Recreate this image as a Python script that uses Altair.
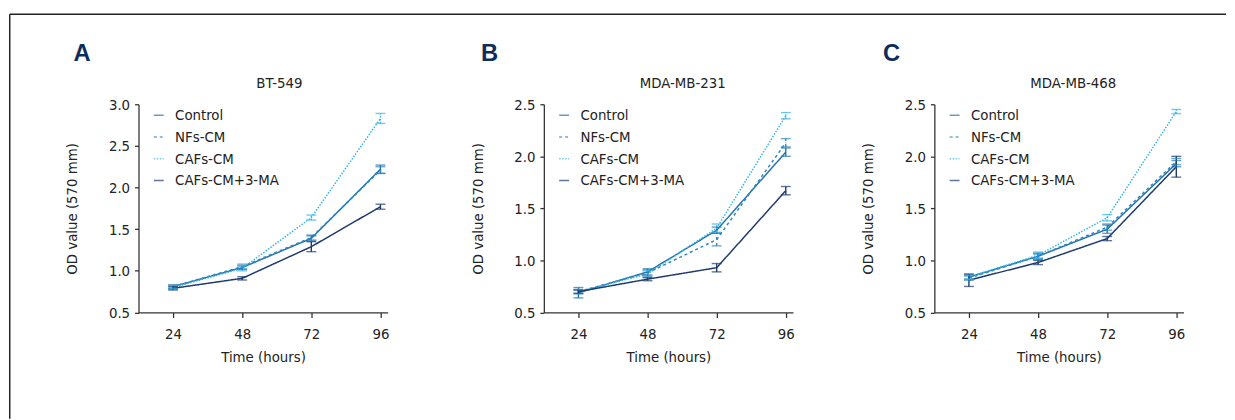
import altair as alt
import pandas as pd

# ---------------- data ----------------
TIMES = [24, 48, 72, 96]
SERIES = ["Control", "NFs-CM", "CAFs-CM", "CAFs-CM+3-MA"]
COLORS = ["#2473ad", "#2f86bb", "#35b4e6", "#1d3b6c"]
DASHES = [[1, 0], [3, 3], [1.5, 1.5], [1, 0]]

LETTERS = ["A", "B", "C"]
CELL_LINES = ["BT-549", "MDA-MB-231", "MDA-MB-468"]
Y_MAX = [3.0, 2.5, 2.5]

# means per series (rows: Control, NFs-CM, CAFs-CM, CAFs-CM+3-MA; cols: 24,48,72,96 h)
BT549_MEAN = [
    [0.81, 1.04, 1.39, 2.22],
    [0.81, 1.05, 1.40, 2.21],
    [0.80, 1.03, 1.64, 2.83],
    [0.79, 0.91, 1.29, 1.77],
]
BT549_SD = [
    [0.02, 0.02, 0.03, 0.05],
    [0.02, 0.03, 0.03, 0.04],
    [0.02, 0.03, 0.03, 0.06],
    [0.02, 0.02, 0.06, 0.03],
]
MDA231_MEAN = [
    [0.69, 0.89, 1.29, 2.04],
    [0.70, 0.88, 1.20, 2.13],
    [0.70, 0.87, 1.31, 2.39],
    [0.70, 0.82, 0.93, 1.67],
]
MDA231_SD = [
    [0.05, 0.03, 0.03, 0.04],
    [0.02, 0.03, 0.06, 0.04],
    [0.02, 0.03, 0.04, 0.03],
    [0.015, 0.015, 0.04, 0.04],
]
MDA468_MEAN = [
    [0.84, 1.04, 1.30, 1.93],
    [0.83, 1.04, 1.32, 1.95],
    [0.84, 1.05, 1.41, 2.43],
    [0.81, 0.98, 1.21, 1.90],
]
MDA468_SD = [
    [0.02, 0.03, 0.04, 0.03],
    [0.02, 0.02, 0.03, 0.03],
    [0.02, 0.03, 0.03, 0.02],
    [0.06, 0.02, 0.02, 0.10],
]
MEANS = [BT549_MEAN, MDA231_MEAN, MDA468_MEAN]
SDS = [BT549_SD, MDA231_SD, MDA468_SD]

# ---------------- style ----------------
FONT = "DejaVu Sans Condensed, Roboto Condensed, Liberation Sans Narrow, Roboto, sans-serif"
TEXT = "#222222"
AXIS_C = "#333333"
W, H = 252, 210.6
X_DOMAIN = [12, 98.5]
TITLE_DX = [142.5, 140.5, 140.5]
LETTER_X = [-57, -55, -43.3]
SPACERS = [158, 143]

legend = alt.Legend(
    orient="none", legendX=13, legendY=3.5, title=None,
    symbolType="stroke", symbolSize=100, symbolStrokeWidth=1.5,
    labelFont=FONT, labelFontSize=15, labelColor=TEXT, labelOffset=9,
    rowPadding=6, padding=0,
)
color = alt.Color("series:N", scale=alt.Scale(domain=SERIES, range=COLORS), legend=legend)
dash = alt.StrokeDash("series:N", scale=alt.Scale(domain=SERIES, range=DASHES), legend=legend)


def panel(i):
    rows = []
    for s, name in enumerate(SERIES):
        for t, tm in enumerate(TIMES):
            m = MEANS[i][s][t]
            e = SDS[i][s][t]
            rows.append({"time": tm, "series": name, "mean": m, "lo": m - e, "hi": m + e})
    df = pd.DataFrame(rows)
    ymax = Y_MAX[i]
    yvals = [round(0.5 + 0.5 * k, 1) for k in range(int(round((ymax - 0.5) / 0.5)) + 1)]

    x = alt.X("time:Q", scale=alt.Scale(domain=X_DOMAIN, nice=False, zero=False),
              axis=alt.Axis(values=TIMES, title="Time (hours)", tickSize=5,
                            labelPadding=9, titlePadding=9, grid=False))
    y_axis = alt.Axis(values=yvals, format=".1f", title="OD value (570 mm)", tickSize=4,
                      labelPadding=5, titlePadding=29, grid=False)
    yscale = alt.Scale(domain=[0.5, ymax], nice=False, zero=False)

    base = alt.Chart(df)
    lines = base.mark_line(strokeWidth=1.5).encode(
        x=x, y=alt.Y("mean:Q", scale=yscale, axis=y_axis), color=color, strokeDash=dash)
    bars = base.mark_rule(strokeWidth=1.4).encode(
        x="time:Q", y="lo:Q", y2="hi:Q", color=color, strokeDash=dash)
    cap_lo = base.mark_tick(orient="horizontal", size=10, thickness=1.4).encode(
        x="time:Q", y="lo:Q", color=color)
    cap_hi = base.mark_tick(orient="horizontal", size=10, thickness=1.4).encode(
        x="time:Q", y="hi:Q", color=color)

    ann = pd.DataFrame({"label": [CELL_LINES[i]], "letter": [LETTERS[i]]})
    title = alt.Chart(ann).mark_text(font=FONT, fontSize=15, color=TEXT,
                                     baseline="middle", align="center").encode(
        x=alt.value(TITLE_DX[i]), y=alt.value(-21), text="label:N")
    letter = alt.Chart(ann).mark_text(font="Liberation Sans", fontSize=24, fontWeight="bold",
                                      color="#0e2d5c", baseline="middle", align="center").encode(
        x=alt.value(LETTER_X[i]), y=alt.value(-50.5), text="letter:N")

    layers = [lines, bars, cap_lo, cap_hi, title, letter]
    if i == 0:
        fr = alt.Chart(pd.DataFrame({"f": [0]}))
        top = fr.mark_rule(color="#222222", strokeWidth=1.5).encode(
            x=alt.value(-130.25), x2=alt.value(1100), y=alt.value(-91))
        left = fr.mark_rule(color="#222222", strokeWidth=1.5).encode(
            x=alt.value(-130.25), y=alt.value(-91), y2=alt.value(318))
        layers += [top, left]
    return alt.layer(*layers).properties(width=W, height=H)


def spacer(w):
    return alt.Chart(pd.DataFrame({"s": [0]})).mark_point(opacity=0).encode(
        x=alt.value(0), y=alt.value(0)).properties(width=w, height=H)


chart = alt.hconcat(
    panel(0), spacer(SPACERS[0]), panel(1), spacer(SPACERS[1]), panel(2),
    spacing=0, bounds="flush",
).resolve_scale(
    color="independent", strokeDash="independent"
).properties(
    padding={"left": 1, "top": 3, "right": 0, "bottom": 0}
).configure_view(stroke=None).configure_axis(
    domainColor=AXIS_C, domainWidth=1.3, tickColor=AXIS_C, tickWidth=1.3,
    labelFont=FONT, labelFontSize=15, labelColor=TEXT,
    titleFont=FONT, titleFontSize=15, titleFontWeight="normal", titleColor=TEXT,
)

chart.save("out.html", embed_options={"renderer": "svg", "actions": False})
